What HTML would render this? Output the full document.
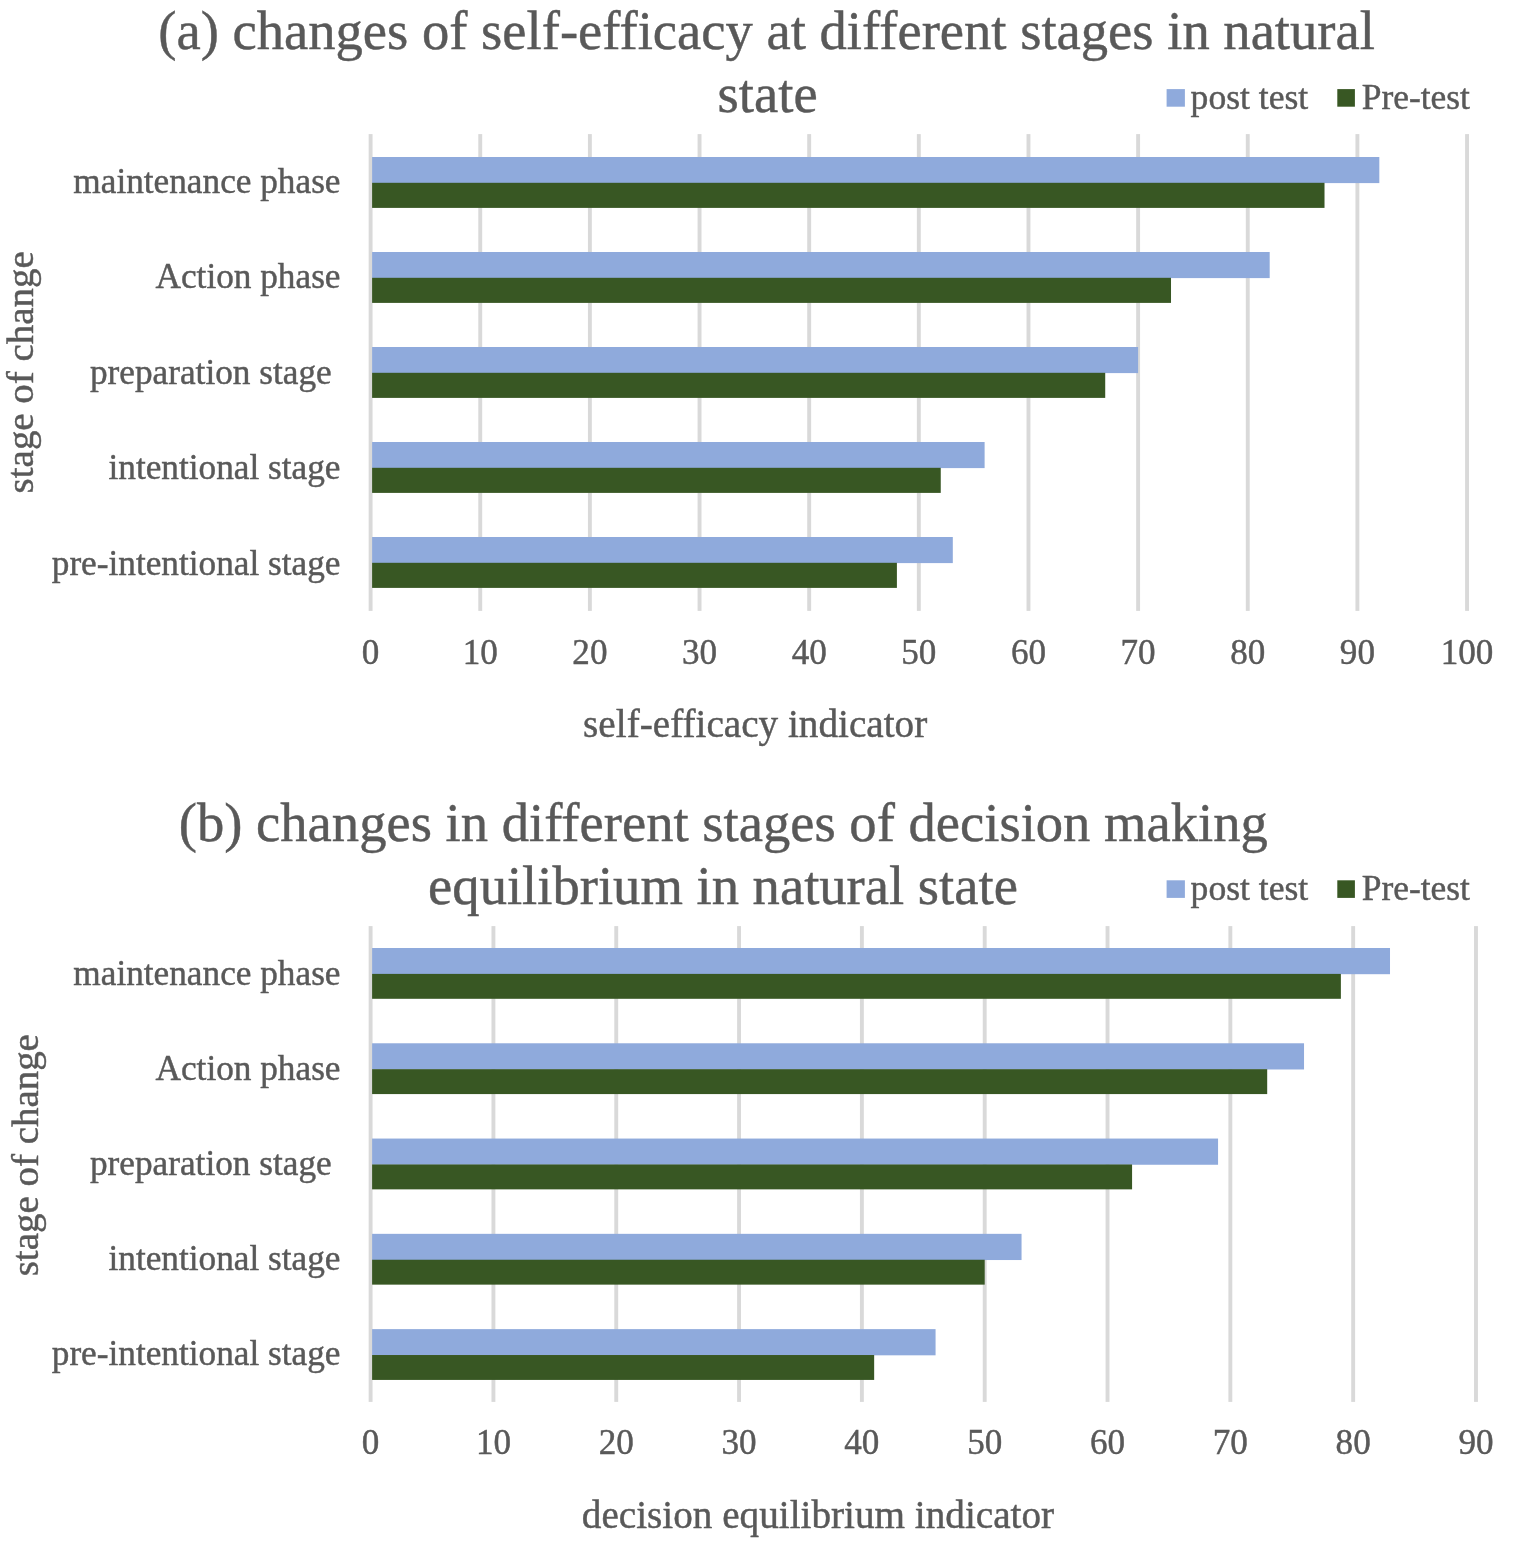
<!DOCTYPE html>
<html><head><meta charset="utf-8"><title>charts</title>
<style>
html,body{margin:0;padding:0;background:#fff;}
svg{display:block;}
text{font-family:"Liberation Serif",serif;fill:#595959;stroke:#595959;stroke-width:0.45px;}
</style></head>
<body>
<svg width="1535" height="1556" viewBox="0 0 1535 1556">
<rect width="1535" height="1556" fill="#ffffff"/>
<g>
<rect x="368.65" y="134.10" width="3.9" height="476.80" fill="#D9D9D9"/>
<rect x="478.30" y="134.10" width="3.9" height="476.80" fill="#D9D9D9"/>
<rect x="587.94" y="134.10" width="3.9" height="476.80" fill="#D9D9D9"/>
<rect x="697.59" y="134.10" width="3.9" height="476.80" fill="#D9D9D9"/>
<rect x="807.23" y="134.10" width="3.9" height="476.80" fill="#D9D9D9"/>
<rect x="916.87" y="134.10" width="3.9" height="476.80" fill="#D9D9D9"/>
<rect x="1026.52" y="134.10" width="3.9" height="476.80" fill="#D9D9D9"/>
<rect x="1136.16" y="134.10" width="3.9" height="476.80" fill="#D9D9D9"/>
<rect x="1245.81" y="134.10" width="3.9" height="476.80" fill="#D9D9D9"/>
<rect x="1355.45" y="134.10" width="3.9" height="476.80" fill="#D9D9D9"/>
<rect x="1465.10" y="134.10" width="3.9" height="476.80" fill="#D9D9D9"/>
<rect x="372.10" y="157.00" width="1007.23" height="26.10" fill="#8FAADC"/>
<rect x="372.10" y="182.80" width="952.41" height="25.10" fill="#385723"/>
<text x="340.5" y="192.50" text-anchor="end" font-size="35.25" xml:space="preserve">maintenance phase</text>
<rect x="372.10" y="252.00" width="897.59" height="26.10" fill="#8FAADC"/>
<rect x="372.10" y="277.80" width="798.91" height="25.10" fill="#385723"/>
<text x="340.5" y="288.10" text-anchor="end" font-size="35.25" xml:space="preserve">Action phase</text>
<rect x="372.10" y="347.00" width="766.01" height="26.10" fill="#8FAADC"/>
<rect x="372.10" y="372.80" width="733.12" height="25.10" fill="#385723"/>
<text x="340.5" y="383.70" text-anchor="end" font-size="35.25" xml:space="preserve">preparation stage </text>
<rect x="372.10" y="442.00" width="612.51" height="26.10" fill="#8FAADC"/>
<rect x="372.10" y="467.80" width="568.65" height="25.10" fill="#385723"/>
<text x="340.5" y="479.30" text-anchor="end" font-size="35.25" xml:space="preserve">intentional stage</text>
<rect x="372.10" y="537.00" width="580.71" height="26.10" fill="#8FAADC"/>
<rect x="372.10" y="562.80" width="524.80" height="25.10" fill="#385723"/>
<text x="340.5" y="574.90" text-anchor="end" font-size="35.25" xml:space="preserve">pre-intentional stage</text>
<text x="370.60" y="663.70" text-anchor="middle" font-size="35.1">0</text>
<text x="480.25" y="663.70" text-anchor="middle" font-size="35.1">10</text>
<text x="589.89" y="663.70" text-anchor="middle" font-size="35.1">20</text>
<text x="699.54" y="663.70" text-anchor="middle" font-size="35.1">30</text>
<text x="809.18" y="663.70" text-anchor="middle" font-size="35.1">40</text>
<text x="918.82" y="663.70" text-anchor="middle" font-size="35.1">50</text>
<text x="1028.47" y="663.70" text-anchor="middle" font-size="35.1">60</text>
<text x="1138.12" y="663.70" text-anchor="middle" font-size="35.1">70</text>
<text x="1247.76" y="663.70" text-anchor="middle" font-size="35.1">80</text>
<text x="1357.40" y="663.70" text-anchor="middle" font-size="35.1">90</text>
<text x="1467.05" y="663.70" text-anchor="middle" font-size="35.1">100</text>
<text x="766.6" y="49.30" text-anchor="middle" font-size="54.6" stroke-width="0.6">(a) changes of self-efficacy at different stages in natural</text>
<text x="767.6" y="112.20" text-anchor="middle" font-size="54.6" stroke-width="0.6">state</text>
<text x="755.2" y="737.00" text-anchor="middle" font-size="39.2">self-efficacy indicator</text>
<text transform="translate(32.9,372.30) rotate(-90)" text-anchor="middle" font-size="38.95">stage of change</text>
<rect x="1166.6" y="89.10" width="18.3" height="17.6" fill="#8FAADC"/>
<text x="1190.6" y="109.10" font-size="35.6">post test</text>
<rect x="1337.3" y="89.10" width="17.6" height="17.6" fill="#385723"/>
<text x="1361.7" y="109.10" font-size="35.45">Pre-test</text>
</g>
<g>
<rect x="368.65" y="926.10" width="3.9" height="475.80" fill="#D9D9D9"/>
<rect x="491.47" y="926.10" width="3.9" height="475.80" fill="#D9D9D9"/>
<rect x="614.29" y="926.10" width="3.9" height="475.80" fill="#D9D9D9"/>
<rect x="737.11" y="926.10" width="3.9" height="475.80" fill="#D9D9D9"/>
<rect x="859.93" y="926.10" width="3.9" height="475.80" fill="#D9D9D9"/>
<rect x="982.75" y="926.10" width="3.9" height="475.80" fill="#D9D9D9"/>
<rect x="1105.57" y="926.10" width="3.9" height="475.80" fill="#D9D9D9"/>
<rect x="1228.39" y="926.10" width="3.9" height="475.80" fill="#D9D9D9"/>
<rect x="1351.21" y="926.10" width="3.9" height="475.80" fill="#D9D9D9"/>
<rect x="1474.03" y="926.10" width="3.9" height="475.80" fill="#D9D9D9"/>
<rect x="372.10" y="948.00" width="1017.91" height="26.20" fill="#8FAADC"/>
<rect x="372.10" y="973.90" width="968.78" height="24.90" fill="#385723"/>
<text x="340.5" y="984.85" text-anchor="end" font-size="35.25" xml:space="preserve">maintenance phase</text>
<rect x="372.10" y="1043.28" width="931.93" height="26.20" fill="#8FAADC"/>
<rect x="372.10" y="1069.18" width="895.09" height="24.90" fill="#385723"/>
<text x="340.5" y="1080.00" text-anchor="end" font-size="35.25" xml:space="preserve">Action phase</text>
<rect x="372.10" y="1138.56" width="845.96" height="26.20" fill="#8FAADC"/>
<rect x="372.10" y="1164.46" width="759.98" height="24.90" fill="#385723"/>
<text x="340.5" y="1175.15" text-anchor="end" font-size="35.25" xml:space="preserve">preparation stage </text>
<rect x="372.10" y="1233.84" width="649.45" height="26.20" fill="#8FAADC"/>
<rect x="372.10" y="1259.74" width="612.60" height="24.90" fill="#385723"/>
<text x="340.5" y="1270.30" text-anchor="end" font-size="35.25" xml:space="preserve">intentional stage</text>
<rect x="372.10" y="1329.12" width="563.47" height="26.20" fill="#8FAADC"/>
<rect x="372.10" y="1355.02" width="502.06" height="24.90" fill="#385723"/>
<text x="340.5" y="1365.45" text-anchor="end" font-size="35.25" xml:space="preserve">pre-intentional stage</text>
<text x="370.60" y="1454.30" text-anchor="middle" font-size="35.1">0</text>
<text x="493.42" y="1454.30" text-anchor="middle" font-size="35.1">10</text>
<text x="616.24" y="1454.30" text-anchor="middle" font-size="35.1">20</text>
<text x="739.06" y="1454.30" text-anchor="middle" font-size="35.1">30</text>
<text x="861.88" y="1454.30" text-anchor="middle" font-size="35.1">40</text>
<text x="984.70" y="1454.30" text-anchor="middle" font-size="35.1">50</text>
<text x="1107.52" y="1454.30" text-anchor="middle" font-size="35.1">60</text>
<text x="1230.34" y="1454.30" text-anchor="middle" font-size="35.1">70</text>
<text x="1353.16" y="1454.30" text-anchor="middle" font-size="35.1">80</text>
<text x="1475.98" y="1454.30" text-anchor="middle" font-size="35.1">90</text>
<text x="723.3" y="841.30" text-anchor="middle" font-size="54.6" stroke-width="0.6">(b) changes in different stages of decision making</text>
<text x="723.0" y="903.70" text-anchor="middle" font-size="54.6" stroke-width="0.6">equilibrium in natural state</text>
<text x="818" y="1527.50" text-anchor="middle" font-size="39.2">decision equilibrium indicator</text>
<text transform="translate(37.8,1155.20) rotate(-90)" text-anchor="middle" font-size="38.95">stage of change</text>
<rect x="1166.6" y="880.30" width="18.3" height="17.6" fill="#8FAADC"/>
<text x="1190.6" y="900.20" font-size="35.6">post test</text>
<rect x="1337.3" y="880.30" width="17.6" height="17.6" fill="#385723"/>
<text x="1361.7" y="900.20" font-size="35.45">Pre-test</text>
</g>
</svg>
</body></html>
